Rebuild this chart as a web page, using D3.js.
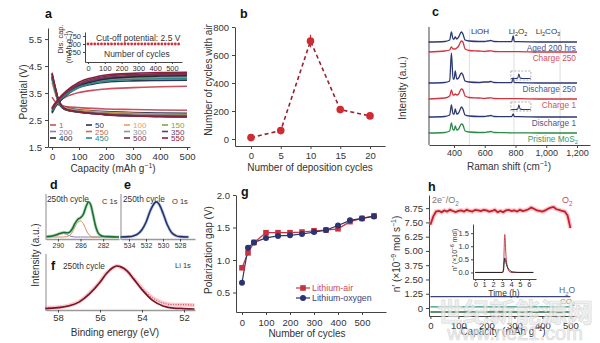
<!DOCTYPE html>
<html>
<head>
<meta charset="utf-8">
<script src="https://cdn.jsdelivr.net/npm/d3@7"></script>
<style>
  body { margin: 0; background: #fff; }
  svg { font-family: 'Liberation Sans', Arial, Helvetica, sans-serif; }
</style>
</head>
<body>
<svg id="fig" width="600" height="343"></svg>
<script>
// ---------------- data ----------------

// panel a: galvanostatic curves, potential (V) read at these capacities
const capX = [0, 10, 25, 50, 100, 150, 200, 300, 400, 500];
const cycleNames = ["1", "50", "100", "150", "200", "250", "300", "350", "400", "450", "500", "550"];
const chargeV = [
  [2.95, 3.05, 3.2, 3.35, 3.52, 3.6, 3.65, 3.7, 3.73, 3.75],
  [2.75, 2.95, 3.15, 3.4, 3.7, 3.83, 3.9, 3.95, 3.97, 3.98],
  [2.8, 3.0, 3.2, 3.45, 3.75, 3.9, 3.97, 4.03, 4.05, 4.06],
  [2.85, 3.0, 3.2, 3.42, 3.72, 3.88, 3.97, 4.05, 4.08, 4.1],
  [2.9, 3.05, 3.22, 3.45, 3.78, 3.93, 4.02, 4.1, 4.13, 4.14],
  [2.95, 3.1, 3.25, 3.48, 3.8, 3.95, 4.04, 4.12, 4.15, 4.16],
  [2.85, 3.0, 3.18, 3.4, 3.72, 3.88, 3.98, 4.06, 4.09, 4.1],
  [2.9, 3.05, 3.22, 3.45, 3.8, 3.97, 4.07, 4.15, 4.19, 4.2],
  [2.8, 2.98, 3.15, 3.4, 3.75, 3.92, 4.02, 4.1, 4.13, 4.14],
  [2.85, 3.0, 3.2, 3.42, 3.72, 3.86, 3.94, 4.0, 4.03, 4.04],
  [2.9, 3.05, 3.25, 3.5, 3.85, 4.02, 4.12, 4.19, 4.21, 4.22],
  [2.95, 3.1, 3.3, 3.55, 3.9, 4.07, 4.17, 4.23, 4.26, 4.27]
];
const dischargeV = [
  [3.35, 3.2, 3.06, 3.0, 2.96, 2.93, 2.91, 2.89, 2.87, 2.86],
  [4.05, 3.65, 3.2, 2.97, 2.88, 2.84, 2.81, 2.78, 2.76, 2.75],
  [3.9, 3.55, 3.15, 2.95, 2.86, 2.82, 2.79, 2.75, 2.72, 2.71],
  [4.0, 3.6, 3.15, 2.93, 2.84, 2.79, 2.76, 2.72, 2.7, 2.69],
  [4.1, 3.7, 3.2, 2.92, 2.82, 2.78, 2.74, 2.7, 2.68, 2.67],
  [4.15, 3.72, 3.18, 2.9, 2.81, 2.76, 2.72, 2.68, 2.66, 2.65],
  [4.05, 3.65, 3.15, 2.9, 2.8, 2.75, 2.72, 2.68, 2.66, 2.65],
  [4.2, 3.75, 3.2, 2.9, 2.8, 2.75, 2.71, 2.67, 2.65, 2.64],
  [4.1, 3.7, 3.15, 2.88, 2.79, 2.74, 2.7, 2.66, 2.64, 2.63],
  [4.05, 3.65, 3.12, 2.88, 2.79, 2.74, 2.7, 2.66, 2.64, 2.63],
  [4.2, 3.78, 3.2, 2.9, 2.8, 2.74, 2.7, 2.66, 2.63, 2.62],
  [4.25, 3.8, 3.22, 2.9, 2.8, 2.74, 2.69, 2.65, 2.62, 2.61]
];
// inset of a: discharge capacity per cycle
const insetCycles = [0, 20, 40, 60, 80, 100, 120, 140, 160, 180, 200, 220, 240, 260, 280, 300, 320, 340, 360, 380, 400, 420, 440, 460, 480, 500, 520, 540];
const insetCap = [500, 500, 500, 500, 500, 500, 500, 500, 500, 500, 500, 500, 500, 500, 500, 500, 500, 500, 500, 500, 500, 500, 500, 500, 500, 500, 500, 500];

// panel b
const depCycles = [0, 5, 10, 15, 20];
const airCycles = [10, 60, 700, 210, 165];
const airErr = [0, 0, 45, 0, 0];

// panel c: Raman spectra, height above each baseline
const ramanX = [235, 340, 372, 383, 394, 401, 408, 418, 430, 448, 458, 472, 500, 560, 600, 620, 640, 660, 720, 775, 785, 792, 800, 820, 950, 1100, 1200];
const ramanNames = ["Aged 200 hrs", "Charge 250", "Discharge 250", "Charge 1", "Discharge 1", "Pristine MoS2"];
const ramanOffset = [103, 93, 62, 46, 28, 12];
const ramanY = [
  [0, 0.5, 2, 10, 3, 3, 5, 3, 5, 10, 8, 2, 1, 0.5, 0.5, 1, 1.5, 0.5, 0.3, 0.3, 6, 0.5, 0.3, 0.3, 0, 0, 0],
  [0, 1, 2, 5, 3, 3, 3, 4, 6, 11, 10, 3, 1.5, 1, 0.5, 1, 1.2, 0.5, 0.3, 0.3, 0.3, 0.3, 0.3, 0.3, 0, 0, 0],
  [0, 0.5, 2, 30, 4, 4, 12, 4, 5, 10, 8, 2, 1, 0.5, 1, 1, 1.5, 0.5, 0.3, 0.5, 5, 0.5, 0.3, 0.3, 0, 0, 0],
  [0, 1, 3, 9, 4, 4, 5, 4, 5, 10, 9, 3, 1.5, 1, 0.5, 1, 1.2, 0.5, 0.3, 0.3, 0.3, 0.3, 0.3, 0.3, 0, 0, 0],
  [0, 0.5, 2, 12, 3, 3, 8, 3, 4, 10, 8, 2, 1, 0.5, 0.5, 1, 1.5, 0.5, 0.3, 0.3, 3, 0.5, 0.3, 0.3, 0, 0, 0],
  [0, 0.5, 2, 10, 3, 3, 7, 3, 4, 9, 8, 2, 1, 0.5, 0.5, 1, 1.5, 0.5, 0.3, 0.2, 0.2, 0.2, 0.2, 0.2, 0, 0, 0]
];
const ramanGrid = [500, 790, 1090];
// magnified Li2O2 region shown in dashed boxes (discharge 250, discharge 1)
const zoomX = [772, 800, 815, 822, 830, 845, 898];
const zoomY = [1.5, 1.5, 2, 6, 2, 1.5, 1.5];
const zoomOffset = [3, 6];

// panel d: C 1s
const dBE = [292, 291, 290.5, 290, 289.5, 289, 288.5, 288, 287.5, 287, 286.5, 286, 285.5, 285, 284.6, 284.2, 283.8, 283.4, 283, 282.5, 282, 281, 279.2];
const dEnv = [0.01, 0.03, 0.05, 0.08, 0.11, 0.13, 0.12, 0.13, 0.22, 0.38, 0.5, 0.55, 0.65, 0.88, 1.0, 0.92, 0.65, 0.35, 0.15, 0.05, 0.02, 0.01, 0];
const dOrange = [0, 0, 0, 0, 0, 0, 0.01, 0.04, 0.12, 0.28, 0.42, 0.46, 0.38, 0.2, 0.08, 0.02, 0, 0, 0, 0, 0, 0, 0];
const dPurple = [0, 0.01, 0.03, 0.06, 0.09, 0.1, 0.08, 0.04, 0.01, 0, 0, 0, 0, 0, 0, 0, 0, 0, 0, 0, 0, 0, 0];

// panel e: O 1s
const eBE = [535, 534, 533.5, 533, 532.5, 532, 531.5, 531, 530.8, 530.5, 530, 529.5, 529, 528.5, 528, 527];
const eInt = [0, 0.01, 0.03, 0.08, 0.2, 0.42, 0.75, 0.97, 1.0, 0.95, 0.68, 0.35, 0.13, 0.04, 0.01, 0];

// panel f: Li 1s
const fBE = [58.6, 58, 57.5, 57, 56.5, 56, 55.7, 55.4, 55.2, 55, 54.7, 54.4, 54, 53.5, 53, 52.5, 52, 51.5];
const fFit = [0.01, 0.03, 0.07, 0.16, 0.35, 0.62, 0.82, 0.96, 1.0, 0.98, 0.88, 0.7, 0.45, 0.2, 0.07, 0.02, 0.01, 0];
const fRaw = [0.03, 0.04, 0.08, 0.17, 0.37, 0.63, 0.83, 0.95, 1.0, 0.97, 0.88, 0.71, 0.48, 0.26, 0.14, 0.1, 0.1, 0.09];

// panel g: polarization gap
const gCycles = [0, 25, 50, 100, 150, 200, 250, 300, 350, 400, 450, 500, 550];
const gapAir = [0.88, 1.11, 1.27, 1.42, 1.42, 1.42, 1.43, 1.45, 1.46, 1.48, 1.59, 1.64, 1.68];
const gapOxygen = [0.65, 1.19, 1.27, 1.34, 1.37, 1.38, 1.40, 1.43, 1.46, 1.53, 1.61, 1.64, 1.67];

// panel h: gas evolution
const hCap = [0, 10, 20, 30, 40, 50, 60, 70, 80, 90, 100, 110, 120, 130, 140, 150, 160, 170, 180, 190, 200, 210, 220, 230, 240, 250, 260, 270, 280, 290, 300, 310, 320, 330, 340, 350, 360, 370, 380, 390, 400, 410, 420, 430, 440, 450, 460, 470, 480, 490, 500];
const hO2 = [7.3, 8.0, 8.45, 8.5, 8.4, 8.55, 8.45, 8.6, 8.5, 8.4, 8.5, 8.55, 8.45, 8.6, 8.5, 8.45, 8.6, 8.55, 8.5, 8.6, 8.55, 8.45, 8.5, 8.6, 8.4, 8.5, 8.4, 8.55, 8.6, 8.5, 8.55, 8.45, 8.6, 8.5, 8.55, 8.65, 8.8, 8.7, 8.55, 8.5, 8.45, 8.55, 8.7, 8.8, 8.85, 8.65, 8.6, 8.5, 8.45, 8.1, 7.0];
const hH2O = 1.0, hCO2 = 0.1, hOther = -0.35;
const insetT = [0, 3.0, 3.15, 3.3, 3.5, 3.8, 4.2, 5, 6.5];
const insetBlack = [0, 0, 0.05, 0.55, 0.3, 0.1, 0.02, 0, 0];
const insetTr = [0, 3.1, 3.2, 3.3, 3.45, 3.7, 4.0, 6.5];
const insetRed = [0, 0, 0.5, 1.45, 0.6, 0.1, 0, 0];

// ---------------- helpers ----------------
const svg = d3.select("#fig");
svg.append("rect").attr("width", 600).attr("height", 343).attr("fill", "#fff");
const AX = "#444", TX = "#333";

function styleAxis(sel, size) {
  sel.attr("font-family", null).attr("font-size", size);
  sel.select(".domain").attr("stroke", AX);
  sel.selectAll(".tick line").attr("stroke", AX);
  sel.selectAll(".tick text").attr("fill", TX);
  return sel;
}

function rich(g, x, y, parts, size, opt = {}) {
  const t = g.append("text").attr("x", x).attr("y", y).attr("font-size", size)
    .attr("fill", opt.fill || TX).attr("text-anchor", opt.anchor || "start");
  if (opt.rotate) t.attr("transform", `rotate(-90,${x},${y})`);
  let shift = 0;
  parts.forEach(p => {
    const [s, k] = Array.isArray(p) ? p : [p, null];
    const target = k === "sub" ? size * 0.3 : k === "sup" ? -size * 0.38 : 0;
    t.append("tspan").attr("dy", target - shift).attr("font-size", k ? size * 0.7 : size).text(s);
    shift = target;
  });
  return t;
}

function letter(x, y, s) {
  svg.append("text").attr("x", x).attr("y", y).attr("font-size", 12.5)
    .attr("font-weight", "bold").attr("fill", "#111").text(s);
}

// ---------------- panel a ----------------
const xA = d3.scaleLinear().domain([-15, 511]).range([48, 190]);
const yA = d3.scaleLinear().domain([1.5, 5.91]).range([147, 28]);
const colorsA = ["#c9505c", "#2c3656", "#e8a05c", "#8aa044", "#8c80a8", "#c86a4c",
                 "#959595", "#6a3c6c", "#2b2b38", "#2a8a90", "#7a3250", "#8a2038"];
const gA = svg.append("g");
letter(45, 18, "a");
styleAxis(gA.append("g").attr("transform", "translate(0,147)")
  .call(d3.axisBottom(xA).tickValues([0, 100, 200, 300, 400, 500]).tickSize(3).tickSizeOuter(0).tickPadding(3)), 9.5);
styleAxis(gA.append("g").attr("transform", "translate(48,0)")
  .call(d3.axisLeft(yA).tickValues([1.5, 2.5, 3.5, 4.5, 5.5]).tickFormat(d3.format(".1f")).tickSize(3).tickSizeOuter(0)), 9.5);
const lineA = d3.line().curve(d3.curveMonotoneX);
cycleNames.forEach((c, i) => {
  [chargeV[i], dischargeV[i]].forEach(vals => {
    gA.append("path")
      .attr("d", lineA(capX.map((x, j) => [xA(x), yA(vals[j])])))
      .attr("fill", "none").attr("stroke", colorsA[i]).attr("stroke-width", 1.6);
  });
});
// legend: 4 columns, 3 rows (1 50 100 150 / 200 250 300 350 / 400 450 500 550)
cycleNames.forEach((c, i) => {
  const col = i % 4, row = Math.floor(i / 4);
  const lx = [50, 86, 124, 162][col], ly = [125, 131.5, 138][row];
  gA.append("line").attr("x1", lx).attr("x2", lx + 6).attr("y1", ly).attr("y2", ly)
    .attr("stroke", colorsA[i]).attr("stroke-width", 1.6);
  gA.append("text").attr("x", lx + 9).attr("y", ly + 3).attr("font-size", 8)
    .attr("fill", colorsA[i]).text(c);
});
// inset
const xAi = d3.scaleLinear().domain([-18, 560]).range([85, 182]);
const yAi = d3.scaleLinear().domain([-62, 875]).range([62, 32]);
styleAxis(gA.append("g").attr("transform", "translate(0,62)")
  .call(d3.axisBottom(xAi).tickValues([0, 100, 200, 300, 400, 500]).tickSize(2).tickSizeOuter(0).tickPadding(2)), 7.5);
styleAxis(gA.append("g").attr("transform", "translate(85,0)")
  .call(d3.axisLeft(yAi).tickValues([250, 500, 750]).tickSize(2).tickSizeOuter(0).tickPadding(2)), 7.5);
gA.selectAll("circle.ins").data(insetCycles).enter().append("circle")
  .attr("cx", (d) => xAi(d)).attr("cy", (d, i) => yAi(insetCap[i])).attr("r", 1.4).attr("fill", "#d0303e");
gA.append("text").attr("x", 96).attr("y", 41).attr("font-size", 8.5).attr("fill", TX).text("Cut-off potential: 2.5 V");
gA.append("text").attr("x", 104).attr("y", 57).attr("font-size", 8.5).attr("fill", TX).text("Number of cycles");
rich(gA, 63, 39, ["Dis. cap."], 7.5, { anchor: "middle", rotate: true });
rich(gA, 71, 47, ["(mAh g", ["−1", "sup"], ")"], 7.5, { anchor: "middle", rotate: true });
rich(gA, 113, 172, ["Capacity (mAh g", ["−1", "sup"], ")"], 10, { anchor: "middle" });
rich(gA, 27, 92, ["Potential (V)"], 10, { anchor: "middle", rotate: true });

// ---------------- panel b ----------------
const xB = d3.scaleLinear().domain([0, 20]).range([251, 370]);
const yB = d3.scaleLinear().domain([-50, 800]).range([146, 27]);
const gB = svg.append("g");
letter(240, 18, "b");
styleAxis(gB.append("g").attr("transform", "translate(0,146)")
  .call(d3.axisBottom(xB.copy().domain([xB.invert(235), xB.invert(385)]).range([235, 385]))
    .tickValues(depCycles).tickFormat(d3.format("d")).tickSize(3).tickSizeOuter(0).tickPadding(3)), 9.5);
styleAxis(gB.append("g").attr("transform", "translate(235,0)")
  .call(d3.axisLeft(yB).tickValues([0, 200, 400, 600, 800]).tickSize(3).tickSizeOuter(0)), 9.5);
gB.append("path")
  .attr("d", d3.line()(depCycles.map((x, i) => [xB(x), yB(airCycles[i])])))
  .attr("fill", "none").attr("stroke", "#9a2030").attr("stroke-width", 1.6).attr("stroke-dasharray", "4,3");
depCycles.forEach((x, i) => {
  if (airErr[i] > 0) {
    gB.append("line").attr("x1", xB(x)).attr("x2", xB(x))
      .attr("y1", yB(airCycles[i] - airErr[i])).attr("y2", yB(airCycles[i] + airErr[i]))
      .attr("stroke", "#c8283a").attr("stroke-width", 1.2);
  }
});
gB.selectAll("circle.b").data(depCycles).enter().append("circle")
  .attr("cx", d => xB(d)).attr("cy", (d, i) => yB(airCycles[i])).attr("r", 3.8).attr("fill", "#d22a32");
rich(gB, 310, 171, ["Number of deposition cycles"], 10, { anchor: "middle" });
rich(gB, 212, 80, ["Number of cycles with air"], 10, { anchor: "middle", rotate: true });

// ---------------- panel c ----------------
const xC = d3.scaleLinear().domain([400, 1200]).range([454, 577]);
const yC = d3.scaleLinear().domain([0, 118]).range([145, 27]);
const gC = svg.append("g");
letter(432, 16, "c");
ramanGrid.forEach(v => {
  gC.append("line").attr("x1", xC(v)).attr("x2", xC(v)).attr("y1", 29).attr("y2", 145)
    .attr("stroke", "#d4d4d4").attr("stroke-width", 0.8);
});
styleAxis(gC.append("g").attr("transform", "translate(0,145)")
  .call(d3.axisBottom(xC.copy().domain([xC.invert(429), xC.invert(590)]).range([429, 590]))
    .tickValues([400, 600, 800, 1000, 1200]).tickFormat(d3.format(",")).tickSize(3).tickSizeOuter(0).tickPadding(2)), 9);
gC.append("line").attr("x1", 429).attr("x2", 429).attr("y1", 27).attr("y2", 145).attr("stroke", AX);
const ramanColors = ["#2c3872", "#d2343e", "#2c3872", "#d2343e", "#2c3872", "#2a8a48"];
const ramanLabelColors = ["#4a5890", "#d05262", "#4a5890", "#d05262", "#4a5890", "#3a9a5a"];
const lineC = d3.line().curve(d3.curveMonotoneX);
ramanY.forEach((vals, k) => {
  gC.append("path")
    .attr("d", lineC(ramanX.map((x, j) => [xC(x), yC(ramanOffset[k] + vals[j])])))
    .attr("fill", "none").attr("stroke", ramanColors[k]).attr("stroke-width", 1.3);
  const ty = yC(ramanOffset[k]) + 8.5;
  if (k === 5) {
    rich(gC, 578, ty, ["Pristine MoS", ["2", "sub"]], 8.3, { anchor: "end", fill: ramanLabelColors[k] });
  } else {
    rich(gC, 576, ty, [ramanNames[k]], 8.3, { anchor: "end", fill: ramanLabelColors[k] });
  }
});
// dashed zoom boxes on the two discharge spectra
[2, 4].forEach((k, n) => {
  const base = ramanOffset[k] + zoomOffset[n];
  gC.append("rect").attr("x", xC(770)).attr("y", yC(base + 9)).attr("width", xC(900) - xC(770)).attr("height", yC(base) - yC(base + 9))
    .attr("fill", "none").attr("stroke", "#999").attr("stroke-width", 0.8).attr("stroke-dasharray", "2,1.5");
  gC.append("path")
    .attr("d", lineC(zoomX.map((x, j) => [xC(x), yC(base + zoomY[j])])))
    .attr("fill", "none").attr("stroke", "#2c3872").attr("stroke-width", 1.1);
});
rich(gC, 480, 34, ["LiOH"], 8, { anchor: "middle" });
rich(gC, 518, 34, ["Li", ["2", "sub"], "O", ["2", "sub"]], 8, { anchor: "middle" });
rich(gC, 548, 34, ["Li", ["2", "sub"], "CO", ["3", "sub"]], 8, { anchor: "middle" });
rich(gC, 509, 170, ["Raman shift (cm", ["−1", "sup"], ")"], 10, { anchor: "middle" });
rich(gC, 406, 88, ["Intensity (a.u.)"], 10, { anchor: "middle", rotate: true });

// ---------------- panels d, e, f ----------------
const gX = svg.append("g");
letter(50, 189, "d");
letter(124, 189, "e");
const xD = d3.scaleLinear().domain([292.1, 279.2]).range([46, 119]);
const yD = d3.scaleLinear().domain([0, 1]).range([237, 202]);
const xE = d3.scaleLinear().domain([534.94, 526.24]).range([121, 195]);
const xF = d3.scaleLinear().domain([58.57, 51.476]).range([46, 195]);
const yF = d3.scaleLinear().domain([0, 1]).range([309, 266]);
const lineX = d3.line().curve(d3.curveMonotoneX);

function xpsAxis(scale, ty, vals, size) {
  const a = gX.append("g").attr("transform", `translate(0,${ty})`)
    .call(d3.axisBottom(scale).tickValues(vals).tickFormat(d3.format("d")).tickSize(2.5).tickSizeOuter(0).tickPadding(2));
  styleAxis(a, size);
  a.select(".domain").attr("stroke", "#9a9a9a").attr("stroke-width", 1.4);
}
xpsAxis(xD, 239, [290, 286, 282], 7);
xpsAxis(xE, 239, [534, 532, 530, 528], 7);
xpsAxis(xF, 310, [58, 56, 54, 52], 9.5);
[[46, 194, 240], [121, 194, 240], [46, 254, 311]].forEach(([x, y1, y2]) => {
  gX.append("line").attr("x1", x).attr("x2", x).attr("y1", y1).attr("y2", y2).attr("stroke", "#8a8a8a");
});
// d curves
gX.append("path").attr("d", lineX(dBE.map((b, i) => [xD(b), yD(dPurple[i])])))
  .attr("fill", "none").attr("stroke", "#8a78b8").attr("stroke-width", 1);
gX.append("path").attr("d", lineX(dBE.map((b, i) => [xD(b), yD(dOrange[i])])))
  .attr("fill", "none").attr("stroke", "#d48a5a").attr("stroke-width", 1);
gX.append("path").attr("d", lineX(dBE.map((b, i) => [xD(b), yD(dEnv[i])])))
  .attr("fill", "none").attr("stroke", "#9ad0a0").attr("stroke-width", 3.2).attr("opacity", 0.7);
gX.append("path").attr("d", lineX(dBE.map((b, i) => [xD(b), yD(dEnv[i])])))
  .attr("fill", "none").attr("stroke", "#1e6e36").attr("stroke-width", 1.6);
// e curve
gX.append("path").attr("d", lineX(eBE.map((b, i) => [xE(b), yD(eInt[i])])))
  .attr("fill", "none").attr("stroke", "#a8b8e0").attr("stroke-width", 3.2).attr("opacity", 0.7);
gX.append("path").attr("d", lineX(eBE.map((b, i) => [xE(b), yD(eInt[i])])))
  .attr("fill", "none").attr("stroke", "#25306a").attr("stroke-width", 1.6);
// f curves
gX.append("path").attr("d", lineX(fBE.map((b, i) => [xF(b), yF(fRaw[i])])))
  .attr("fill", "none").attr("stroke", "#f4a8b0").attr("stroke-width", 4).attr("opacity", 0.6);
gX.append("path").attr("d", lineX(fBE.map((b, i) => [xF(b), yF(fRaw[i])])))
  .attr("fill", "none").attr("stroke", "#d03848").attr("stroke-width", 1).attr("stroke-dasharray", "1,1.5");
gX.append("path").attr("d", lineX(fBE.map((b, i) => [xF(b), yF(fFit[i])])))
  .attr("fill", "none").attr("stroke", "#7a1428").attr("stroke-width", 1.7);
rich(gX, 47, 202, ["250th cycle"], 8.3);
rich(gX, 102, 204, ["C 1s"], 7.5);
rich(gX, 123, 202, ["250th cycle"], 8.3);
rich(gX, 172, 204, ["O 1s"], 7.5);
letter(51, 270, "f");
rich(gX, 63, 269, ["250th cycle"], 8.3);
rich(gX, 175, 268, ["Li 1s"], 7.5);
rich(gX, 115, 336, ["Binding energy (eV)"], 10, { anchor: "middle" });
rich(gX, 39, 255, ["Intensity (a.u.)"], 10, { anchor: "middle", rotate: true });

// ---------------- panel g ----------------
const xG = d3.scaleLinear().domain([-25, 600]).range([236, 386]);
const yG = d3.scaleLinear().domain([0.2, 2.0]).range([312, 195]);
const gG = svg.append("g");
letter(241, 196, "g");
styleAxis(gG.append("g").attr("transform", "translate(0,312)")
  .call(d3.axisBottom(xG).tickValues([0, 100, 200, 300, 400, 500]).tickFormat(d3.format("d")).tickSize(3).tickSizeOuter(0).tickPadding(4)), 9.5);
styleAxis(gG.append("g").attr("transform", "translate(236,0)")
  .call(d3.axisLeft(yG).tickValues([0.5, 1.0, 1.5, 2.0]).tickFormat(d3.format(".1f")).tickSize(3).tickSizeOuter(0)), 9.5);
const airCol = "#c8323e", oxyCol = "#2a3470";
gG.append("path").attr("d", d3.line()(gCycles.map((x, i) => [xG(x), yG(gapAir[i])])))
  .attr("fill", "none").attr("stroke", airCol).attr("stroke-width", 1.2);
gG.append("path").attr("d", d3.line()(gCycles.map((x, i) => [xG(x), yG(gapOxygen[i])])))
  .attr("fill", "none").attr("stroke", oxyCol).attr("stroke-width", 1.2);
gG.selectAll("rect.air").data(gCycles).enter().append("rect")
  .attr("x", d => xG(d) - 2.8).attr("y", (d, i) => yG(gapAir[i]) - 2.8).attr("width", 5.6).attr("height", 5.6).attr("fill", airCol);
gG.selectAll("circle.oxy").data(gCycles).enter().append("circle")
  .attr("cx", d => xG(d)).attr("cy", (d, i) => yG(gapOxygen[i])).attr("r", 3).attr("fill", oxyCol);
gG.append("line").attr("x1", 296).attr("x2", 310).attr("y1", 288).attr("y2", 288).attr("stroke", airCol).attr("stroke-width", 1.2);
gG.append("rect").attr("x", 300.2).attr("y", 285.2).attr("width", 5.6).attr("height", 5.6).attr("fill", airCol);
gG.append("line").attr("x1", 296).attr("x2", 310).attr("y1", 298).attr("y2", 298).attr("stroke", oxyCol).attr("stroke-width", 1.2);
gG.append("circle").attr("cx", 303).attr("cy", 298).attr("r", 3).attr("fill", oxyCol);
rich(gG, 312, 291, ["Lithium-air"], 8.8, { fill: "#c84a5a" });
rich(gG, 312, 301, ["Lithium-oxygen"], 8.8, { fill: "#3a4480" });
rich(gG, 307, 337, ["Number of cycles"], 10, { anchor: "middle" });
rich(gG, 212, 250, ["Polarization gap (V)"], 10, { anchor: "middle", rotate: true });

// ---------------- panel h ----------------
const xH = d3.scaleLinear().domain([-5, 520]).range([429, 576]);
const yH = d3.scaleLinear().domain([-0.7, 9.9]).range([316, 195]);
const gH = svg.append("g");
letter(428, 191, "h");
styleAxis(gH.append("g").attr("transform", "translate(0,316)")
  .call(d3.axisBottom(xH).tickValues([0, 100, 200, 300, 400, 500]).tickFormat(d3.format("d")).tickSize(3).tickSizeOuter(0).tickPadding(3)), 9.5);
styleAxis(gH.append("g").attr("transform", "translate(429,0)")
  .call(d3.axisLeft(yH).tickValues([0, 1.25, 2.5, 3.75, 5, 6.25, 7.5, 8.75])
    .tickFormat(d => d === 0 ? "0" : d3.format(".2f")(d)).tickSize(3).tickSizeOuter(0)), 9.5);
[[hH2O, "#3a4678"], [hCO2, "#2a9a7a"], [hOther, "#2a6a3a"]].forEach(([v, c]) => {
  gH.append("line").attr("x1", xH(0)).attr("x2", xH(500)).attr("y1", yH(v)).attr("y2", yH(v))
    .attr("stroke", c).attr("stroke-width", 1.3);
});
const lineH = d3.line().curve(d3.curveLinear);
gH.append("path").attr("d", lineH(hCap.map((x, i) => [xH(x), yH(hO2[i])])))
  .attr("fill", "none").attr("stroke", "#f09098").attr("stroke-width", 4.5).attr("opacity", 0.5);
gH.append("path").attr("d", lineH(hCap.map((x, i) => [xH(x), yH(hO2[i])])))
  .attr("fill", "none").attr("stroke", "#c41e2a").attr("stroke-width", 1.8);
rich(gH, 432, 203, ["2e", ["−", "sup"], "/O", ["2", "sub"]], 9, { fill: "#777" });
rich(gH, 562, 203, ["O", ["2", "sub"]], 9, { fill: "#c85060" });
rich(gH, 559, 293, ["H", ["2", "sub"], "O"], 8.5, { fill: "#556090" });
rich(gH, 560, 304, ["CO", ["2", "sub"]], 8, { fill: "#5a9a8a" });
// inset
const xHi = d3.scaleLinear().domain([-0.25, 6.8]).range([473, 536]);
const yHi = d3.scaleLinear().domain([-0.25, 1.85]).range([279, 224]);
styleAxis(gH.append("g").attr("transform", "translate(0,279)")
  .call(d3.axisBottom(xHi).tickValues([0, 1, 2, 3, 4, 5, 6]).tickFormat(d3.format("d")).tickSize(2).tickSizeOuter(0).tickPadding(1)), 7.5);
styleAxis(gH.append("g").attr("transform", "translate(473,0)")
  .call(d3.axisLeft(yHi).tickValues([0, 0.5, 1.0, 1.5]).tickFormat(d3.format(".1f")).tickSize(2).tickSizeOuter(0).tickPadding(2)), 7.5);
gH.append("path").attr("d", lineX(insetTr.map((t, i) => [xHi(t), yHi(insetRed[i])])))
  .attr("fill", "none").attr("stroke", "#c84050").attr("stroke-width", 1);
gH.append("path").attr("d", lineX(insetT.map((t, i) => [xHi(t), yHi(insetBlack[i])])))
  .attr("fill", "none").attr("stroke", "#222").attr("stroke-width", 1);
rich(gH, 504, 296, ["Time (h)"], 8.5, { anchor: "middle" });
rich(gH, 457, 250, ["n′ (×10", ["−6", "sup"], " mol)"], 7, { anchor: "middle", rotate: true });
rich(gH, 503, 335, ["Capacity (mAh g", ["−1", "sup"], ")"], 10, { anchor: "middle" });
rich(gH, 400, 254, ["n′ (×10", ["−9", "sup"], " mol s", ["−1", "sup"], ")"], 10, { anchor: "middle", rotate: true });

// site watermark over panel h
svg.append("text").attr("x", 515).attr("y", 322).attr("text-anchor", "middle")
  .attr("font-family", "'Noto Sans CJK SC', sans-serif").attr("font-size", 26).attr("font-weight", "bold")
  .attr("fill", "#ececec").attr("stroke", "#cfcfcf").attr("stroke-width", 0.7).attr("opacity", 0.75)
  .text("世纪新能源网");
svg.append("text").attr("x", 515).attr("y", 340).attr("text-anchor", "middle")
  .attr("font-size", 20).attr("fill", "#ececec").attr("stroke", "#cfcfcf").attr("stroke-width", 0.7).attr("opacity", 0.75)
  .text("www.ne21.com");
</script>
</body>
</html>
